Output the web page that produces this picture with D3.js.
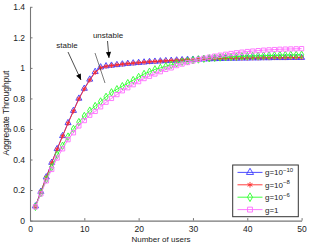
<!DOCTYPE html>
<meta charset="utf-8">
<style>
  html, body { margin: 0; background: #fff; overflow: hidden; }
  svg { display: block; }
  text { font-family: "Liberation Sans", Arial, sans-serif; fill: #222; }
</style>
<svg width="312" height="247"></svg>
<script src="https://cdn.jsdelivr.net/npm/d3@7"></script>
<script>
var users = [1,2,3,4,5,6,7,8,9,10,11,12,13,14,15,16,17,18,19,20,21,22,23,24,25,
             26,27,28,29,30,31,32,33,34,35,36,37,38,39,40,41,42,43,44,45,46,47,48,49,50];

var g10 = [0.095,0.19,0.285,0.38,0.47,0.555,0.64,0.72,0.80,0.865,0.925,0.975,1.005,1.012,1.016,
           1.02,1.024,1.028,1.031,1.034,1.037,1.04,1.042,1.044,1.046,1.048,1.05,1.052,1.054,1.055,
           1.056,1.057,1.058,1.059,1.06,1.061,1.062,1.062,1.063,1.063,1.064,1.064,1.065,1.065,1.066,
           1.066,1.066,1.067,1.067,1.067];
var g8 = [0.093,0.188,0.283,0.378,0.468,0.553,0.637,0.717,0.797,0.862,0.92,0.97,1.0,1.01,1.015,
          1.02,1.024,1.028,1.031,1.034,1.037,1.04,1.042,1.044,1.046,1.048,1.05,1.052,1.054,1.055,
          1.057,1.058,1.059,1.06,1.061,1.062,1.063,1.063,1.064,1.064,1.065,1.065,1.066,1.066,1.067,
          1.067,1.067,1.068,1.068,1.068];
var g6 = [0.09,0.18,0.27,0.35,0.43,0.49,0.55,0.60,0.645,0.685,0.72,0.75,0.78,0.81,0.84,
          0.86,0.88,0.90,0.92,0.94,0.96,0.975,0.99,1.0,1.01,1.02,1.03,1.04,1.045,1.05,
          1.055,1.06,1.063,1.066,1.068,1.07,1.072,1.074,1.076,1.077,1.078,1.079,1.08,1.081,1.082,
          1.083,1.084,1.085,1.085,1.086];
var g1 = [0.09,0.175,0.26,0.335,0.41,0.47,0.53,0.575,0.62,0.655,0.69,0.715,0.745,0.775,0.80,
          0.825,0.85,0.87,0.89,0.91,0.93,0.945,0.96,0.975,0.99,1.0,1.015,1.025,1.035,1.045,
          1.055,1.063,1.07,1.077,1.083,1.089,1.094,1.099,1.103,1.107,1.11,1.113,1.116,1.118,1.12,
          1.122,1.123,1.124,1.125,1.126];

var xTicks = [0,10,20,30,40,50];
var yTicks = [0,0.2,0.4,0.6,0.8,1,1.2,1.4];
var yTickLabels = ["0","0.2","0.4","0.6","0.8","1","1.2","1.4"];

var series = [
  {exp: "10", values: g10, color: "#3b3bff", symbol: d3.symbolTriangle, size: 16},
  {exp: "8",  values: g8,  color: "#ff2a2a", symbol: d3.symbolAsterisk, size: 16},
  {exp: "6",  values: g6,  color: "#2cff2c", symbol: d3.symbolDiamond, size: 16},
  {exp: "",   values: g1,  color: "#ff6cff", symbol: d3.symbolSquare, size: 18}
];

var svg = d3.select("svg");
var x = d3.scaleLinear().domain([0, 50]).range([30, 301.6]);
var y = d3.scaleLinear().domain([0, 1.4]).range([220.6, 6.8]);

// axes first, matlab style: ticks inside, no box
var yAxis = svg.append("g").attr("transform", "translate(30,0)")
  .call(d3.axisLeft(y).tickValues(yTicks).tickSizeInner(-2.5).tickSizeOuter(0).tickPadding(5)
    .tickFormat(function(d, i) { return yTickLabels[i]; }))
  .attr("font-size", 8.5).attr("font-family", null);
var xAxis = svg.append("g").attr("transform", "translate(0,220.6)")
  .call(d3.axisBottom(x).tickValues(xTicks).tickSizeInner(-2.5).tickSizeOuter(0).tickPadding(5))
  .attr("font-size", 8.5).attr("font-family", null);
svg.selectAll(".domain").attr("stroke", "#777").attr("stroke-width", 1.1);
svg.selectAll(".tick line").attr("stroke", "#777");

svg.append("text").attr("x", 161).attr("y", 242).attr("text-anchor", "middle")
  .attr("font-size", 8).text("Number of users");
svg.append("text").attr("transform", "translate(9,113) rotate(-90)").attr("text-anchor", "middle")
  .attr("font-size", 8.5).text("Aggregate Throughput");

var line = d3.line().x(function(d, i) { return x(users[i]); }).y(function(d) { return y(d); });

series.forEach(function(s) {
  var g = svg.append("g");
  g.append("path").datum(s.values).attr("d", line)
    .attr("fill", "none").attr("stroke", s.color).attr("stroke-width", 0.9);
  g.selectAll("path.m").data(s.values).enter().append("path").attr("class", "m")
    .attr("transform", function(d, i) { return "translate(" + x(users[i]) + "," + y(d) + ")"; })
    .attr("d", d3.symbol().type(s.symbol).size(s.size))
    .attr("fill", "none").attr("stroke", s.color).attr("stroke-width", 0.9);
});

// annotations: arrows drawn as line + filled head
function arrow(x1, y1, x2, y2) {
  svg.append("line").attr("x1", x1).attr("y1", y1).attr("x2", x2).attr("y2", y2)
    .attr("stroke", "#222").attr("stroke-width", 0.8);
  var a = Math.atan2(y2 - y1, x2 - x1), L = 6, W = 2.6;
  var bx = x2 - L * Math.cos(a), by = y2 - L * Math.sin(a);
  var px = -Math.sin(a) * W, py = Math.cos(a) * W;
  svg.append("path")
    .attr("d", "M" + x2 + "," + y2 + "L" + (bx + px) + "," + (by + py) + "L" + (bx - px) + "," + (by - py) + "Z")
    .attr("fill", "#000");
}
svg.append("text").attr("x", 67).attr("y", 48).attr("text-anchor", "middle").attr("font-size", 8).text("stable");
arrow(68, 52, 81, 80);
svg.append("text").attr("x", 108).attr("y", 38).attr("text-anchor", "middle").attr("font-size", 8).text("unstable");
arrow(107.5, 41, 109, 58);
svg.append("line").attr("x1", 95).attr("y1", 53).attr("x2", 105).attr("y2", 83)
  .attr("stroke", "#444").attr("stroke-width", 0.7);

// legend
var lg = svg.append("g");
lg.append("rect").attr("x", 232.7).attr("y", 165).attr("width", 65.6).attr("height", 51.7)
  .attr("fill", "#fff").attr("stroke", "#333").attr("stroke-width", 1);
series.forEach(function(s, i) {
  var ly = 172.4 + i * 12.4;
  lg.append("line").attr("x1", 237.5).attr("x2", 262.5).attr("y1", ly).attr("y2", ly)
    .attr("stroke", s.color).attr("stroke-width", 0.9);
  lg.append("path").attr("transform", "translate(250," + ly + ")")
    .attr("d", d3.symbol().type(s.symbol).size(s.size + 6))
    .attr("fill", "none").attr("stroke", s.color).attr("stroke-width", 0.9);
  var t = lg.append("text").attr("x", 265).attr("y", ly + 3).attr("font-size", 8);
  if (s.exp) {
    t.append("tspan").text("g=10");
    t.append("tspan").attr("dy", -3.5).attr("font-size", 6).text("\u2212" + s.exp);
  } else {
    t.text("g=1");
  }
});
</script>
